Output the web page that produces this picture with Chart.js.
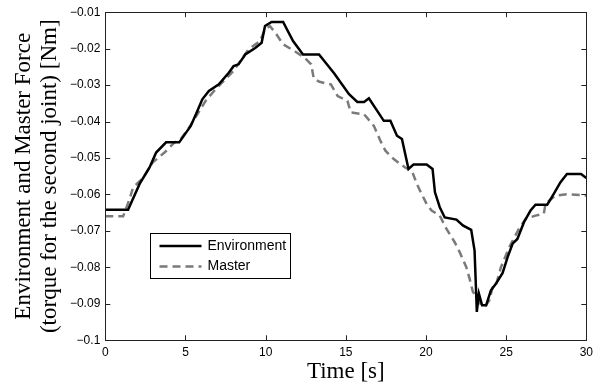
<!DOCTYPE html>
<html>
<head>
<meta charset="utf-8">
<script src="https://cdn.jsdelivr.net/npm/chart.js@4/dist/chart.umd.min.js"></script>
<style>
  html, body { margin: 0; padding: 0; background: #fff; }
  #c { display: block; }
</style>
</head>
<body>
<canvas id="c" width="598" height="387"></canvas>
<script>
// data ------------------------------------------------------------------------
const envTime = [0, 1.42, 2.14, 2.76, 3.17, 3.79, 4.61, 5.33, 5.74, 6.05, 6.46, 7.08, 7.7, 8.0, 8.31, 8.73,
  9.35, 9.75, 9.96, 10.37, 11.09, 11.71, 12.33, 13.33, 14.28, 15.2, 15.72, 16.14, 16.44, 17.37, 17.78,
  18.19, 18.5, 18.91, 19.22, 20.04, 20.41, 20.56, 20.86, 21.17, 21.9, 22.3, 22.82, 23.03, 23.13, 23.17,
  23.3, 23.5, 23.75, 24.05, 24.36, 24.78, 25.09, 25.4, 25.7, 26.11, 26.52, 26.83, 27.56, 27.96, 28.38,
  28.79, 29.67, 30];
const envForce = [-0.0642, -0.0642, -0.0571, -0.0526, -0.0485, -0.0457, -0.0457, -0.0412, -0.0371, -0.0339,
  -0.0316, -0.0298, -0.0266, -0.0248, -0.0243, -0.0216, -0.0198, -0.0184, -0.0138, -0.0127, -0.0127,
  -0.0179, -0.0216, -0.0216, -0.0268, -0.0325, -0.0346, -0.0346, -0.0336, -0.0398, -0.0398, -0.0439,
  -0.0448, -0.0530, -0.0518, -0.0518, -0.0530, -0.0594, -0.0635, -0.0663, -0.0669, -0.0685, -0.0697,
  -0.0754, -0.0872, -0.0922, -0.0872, -0.0904, -0.0904, -0.0863, -0.0845, -0.0815, -0.0772, -0.0735,
  -0.0722, -0.0676, -0.0644, -0.0628, -0.0628, -0.0599, -0.0567, -0.0544, -0.0544, -0.0555];

const masterTime = [0, 1.11, 1.52, 1.73, 2.35, 2.96, 3.69, 4.3, 4.71, 5.23, 5.74, 6.26, 6.88, 7.49, 8.0,
  8.42, 8.93, 9.65, 9.96, 10.27, 10.68, 11.09, 11.81, 12.43, 12.84, 13.0, 13.36, 14.07, 14.49, 15.1,
  15.31, 16.14, 16.75, 17.16, 17.47, 17.99, 18.7, 19.12, 19.43, 19.63, 20.04, 20.35, 20.86, 21.27,
  21.79, 22.1, 22.51, 22.72, 22.93, 23.23, 23.44, 23.7, 23.95, 24.16, 24.36, 24.67, 25.19, 25.8, 26.22,
  26.83, 27.35, 27.45, 28.07, 28.79, 30];
const masterForce = [-0.0660, -0.0660, -0.0612, -0.0581, -0.0555, -0.0512, -0.0485, -0.0458, -0.0448,
  -0.0416, -0.0380, -0.0343, -0.0311, -0.0284, -0.0261, -0.0234, -0.0202, -0.0179, -0.0147, -0.0138,
  -0.0161, -0.0188, -0.0207, -0.0225, -0.0243, -0.0282, -0.0291, -0.0298, -0.0330, -0.0343, -0.0375,
  -0.0380, -0.0412, -0.0453, -0.0480, -0.0503, -0.0526, -0.0535, -0.0571, -0.0590, -0.0626, -0.0644,
  -0.0658, -0.0694, -0.0731, -0.0758, -0.0799, -0.0831, -0.0868, -0.0881, -0.0904, -0.0907, -0.0890,
  -0.0854, -0.0849, -0.0800, -0.0745, -0.0694, -0.0667, -0.0658, -0.0653, -0.0626, -0.0603, -0.0599,
  -0.0603];

const xTicks = [0, 5, 10, 15, 20, 25, 30];
const yTicks = [-0.1, -0.09, -0.08, -0.07, -0.06, -0.05, -0.04, -0.03, -0.02, -0.01];
const yTickLabels = ['\u22120.1', '\u22120.09', '\u22120.08', '\u22120.07', '\u22120.06', '\u22120.05',
  '\u22120.04', '\u22120.03', '\u22120.02', '\u22120.01'];

const seriesNames = ['Environment', 'Master'];

const pairs = (xs, ys) => xs.map((x, i) => ({x, y: ys[i]}));

// box + inward ticks on the 4 sides (matlab look) -----------------------------
const frameTicks = {
  id: 'frameTicks',
  afterDatasetsDraw(chart){
    const {ctx, chartArea: a, scales} = chart;
    const len = 5;
    ctx.save();
    ctx.strokeStyle = '#222';
    ctx.lineWidth = 1;
    ctx.beginPath();
    for(const v of xTicks){
      const px = Math.round(scales.x.getPixelForValue(v)) + .5;
      ctx.moveTo(px, a.bottom); ctx.lineTo(px, a.bottom - len);
      ctx.moveTo(px, a.top); ctx.lineTo(px, a.top + len);
    }
    for(const v of yTicks){
      const py = Math.round(scales.y.getPixelForValue(v)) + .5;
      ctx.moveTo(a.left, py); ctx.lineTo(a.left + len, py);
      ctx.moveTo(a.right, py); ctx.lineTo(a.right - len, py);
    }
    ctx.stroke();
    ctx.strokeRect(Math.round(a.left) + .5, Math.round(a.top) + .5,
      Math.round(a.right - a.left), Math.round(a.bottom - a.top));
    ctx.restore();
  }
};

// legend inside the axes, bottom-left
const insideLegend = {
  id: 'insideLegend',
  afterDraw(chart){
    const {ctx} = chart;
    const bx = 150.5, by = 233.5, bw = 140, bh = 45;
    ctx.save();
    ctx.fillStyle = '#fff';
    ctx.fillRect(bx, by, bw, bh);
    ctx.strokeStyle = '#000';
    ctx.lineWidth = 1;
    ctx.strokeRect(bx, by, bw, bh);
    ctx.font = '14px "Liberation Sans", Arial, sans-serif';
    ctx.textBaseline = 'middle';
    chart.data.datasets.forEach((ds, i) => {
      const y = by + 12.5 + i * 20.5;
      ctx.strokeStyle = ds.borderColor;
      ctx.lineWidth = ds.borderWidth;
      ctx.setLineDash(ds.borderDash || []);
      ctx.beginPath();
      ctx.moveTo(bx + 9, y); ctx.lineTo(bx + 51, y);
      ctx.stroke();
      ctx.setLineDash([]);
      ctx.fillStyle = '#000';
      ctx.fillText(ds.label, bx + 57, y);
    });
    ctx.restore();
  }
};

new Chart(document.getElementById('c'), {
  type: 'line',
  data: {
    datasets: [
      { label: seriesNames[0], data: pairs(envTime, envForce), borderColor: '#000',
        borderWidth: 2.5, pointRadius: 0, tension: 0, fill: false },
      { label: seriesNames[1], data: pairs(masterTime, masterForce), borderColor: '#7a7a7a',
        borderWidth: 2.5, borderDash: [8, 5], pointRadius: 0, tension: 0, fill: false }
    ]
  },
  options: {
    responsive: false,
    animation: false,
    events: [],
    layout: { padding: { top: 11, right: 7, left: 0, bottom: 0 } },
    plugins: { legend: { display: false }, tooltip: { enabled: false } },
    scales: {
      x: {
        type: 'linear', min: 0, max: 30,
        afterBuildTicks: (s) => { s.ticks = xTicks.map(v => ({value: v})); },
        afterFit: (s) => { s.height = 46.7; },
        grid: { display: false, drawTicks: false },
        border: { display: false },
        ticks: { color: '#000', padding: 5, maxRotation: 0,
          font: { family: '"Liberation Sans", Arial, sans-serif', size: 12 } },
        title: { display: true, text: 'Time [s]', color: '#000',
          font: { family: '"Liberation Serif", "Times New Roman", serif', size: 23, lineHeight: 1.05 },
          padding: { top: 0, bottom: 3 } }
      },
      y: {
        type: 'linear', min: -0.1, max: -0.01,
        afterBuildTicks: (s) => { s.ticks = yTicks.map(v => ({value: v})); },
        afterFit: (s) => { s.width = 105.3; },
        grid: { display: false, drawTicks: false },
        border: { display: false },
        ticks: { color: '#000', padding: 5,
          font: { family: '"Liberation Sans", Arial, sans-serif', size: 12 },
          callback: (v, i) => yTickLabels[i] },
        title: { display: true, text: ['Environment and Master Force', '(torque for the second joint) [Nm]'],
          color: '#000',
          font: { family: '"Liberation Serif", "Times New Roman", serif', size: 23, lineHeight: 1.12 },
          padding: { top: 11, bottom: 0 } }
      }
    }
  },
  plugins: [frameTicks, insideLegend]
});
</script>
</body>
</html>
